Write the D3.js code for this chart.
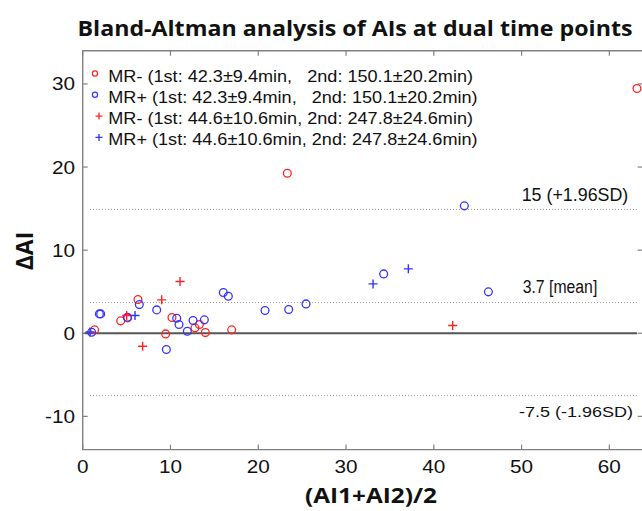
<!DOCTYPE html>
<meta charset="utf-8">
<style>
body { margin: 0; background: #fff; }
svg { display: block; }
text { font-family: "Liberation Sans", Arial, sans-serif; fill: #111; }
.bold { font-family: "Open Sans", "Noto Sans", sans-serif; font-weight: bold; }
</style>
<svg></svg>
<script src="https://cdn.jsdelivr.net/npm/d3@7"></script>
<script>

// MR- (1st scan pair) - red circles
var redCircleX = [1.36, 4.33, 5.12, 6.30, 9.45, 10.17, 12.79, 13.29, 13.97, 16.97, 23.31, 63.15]
var redCircleY = [0.41, 1.49, 1.85, 4.06, -0.08, 1.89, 0.65, 1.05, 0.08, 0.41, 19.26, 29.45]
// MR+ (1st scan pair) - blue circles
var blueCircleX = [1.02, 1.9, 2.05, 5.09, 6.45, 8.43, 9.53, 10.71, 10.97, 11.92, 12.57, 13.86, 16.02, 16.59, 20.77, 23.47, 25.44, 34.29, 43.48, 46.22]
var blueCircleY = [0.12, 2.33, 2.33, 1.93, 3.45, 2.81, -1.96, 1.81, 1.05, 0.24, 1.53, 1.61, 4.90, 4.46, 2.73, 2.85, 3.53, 7.14, 15.33, 4.98]
// MR- (2nd scan pair) - red plus
var redPlusX = [5.01, 6.83, 9.0, 11.09, 42.15]
var redPlusY = [2.13, -1.56, 4.02, 6.22, 0.93]
// MR+ (2nd scan pair) - blue plus
var bluePlusX = [0.83, 5.96, 33.08, 37.1]
var bluePlusY = [0.16, 2.13, 5.94, 7.75]

var meanDiff = 3.7, upperLoA = 14.9, lowerLoA = -7.5
var xTicks = [0, 10, 20, 30, 40, 50, 60]
var yTicks = [-10, 0, 10, 20, 30]
var legendText = [
  "MR- (1st: 42.3\u00b19.4min,   2nd: 150.1\u00b120.2min)",
  "MR+ (1st: 42.3\u00b19.4min,   2nd: 150.1\u00b120.2min)",
  "MR- (1st: 44.6\u00b110.6min, 2nd: 247.8\u00b124.6min)",
  "MR+ (1st: 44.6\u00b110.6min, 2nd: 247.8\u00b124.6min)"
]
var legendShape = ["circle", "circle", "plus", "plus"]
var red = "#f22", blue = "#33f"
var legendColor = [red, blue, red, blue]

var width = 642, height = 511
var svg = d3.select("svg").attr("width", width).attr("height", height)

var x = d3.scaleLinear().domain([0, 63.8]).range([82.7, 642.7])
var y = d3.scaleLinear().domain([-14, 34]).range([449.6, 50.7])

// stretch text horizontally like the source picture
function stretch(sel, k) {
  sel.each(function(){
    var w = this.getComputedTextLength()
    d3.select(this).attr("textLength", w * k).attr("lengthAdjust", "spacingAndGlyphs")
  })
}

var axisColor = "#808080"

// box
var x0 = x.range()[0], x1 = x.range()[1], y0 = y.range()[0], y1 = y.range()[1]
svg.append("path")
  .attr("d", "M" + x1 + "," + y1 + "H" + x0 + "V" + y0 + "H" + x1)
  .attr("fill", "none").attr("stroke", axisColor).attr("stroke-width", 1.4)

// inward ticks on all four sides
xTicks.forEach(function(t){
  svg.append("line").attr("x1", x(t)).attr("x2", x(t)).attr("y1", y0).attr("y2", y0 - 5)
    .attr("stroke", axisColor).attr("stroke-width", 1.2)
  svg.append("line").attr("x1", x(t)).attr("x2", x(t)).attr("y1", y1).attr("y2", y1 + 5)
    .attr("stroke", axisColor).attr("stroke-width", 1.2)
})
yTicks.forEach(function(t){
  svg.append("line").attr("x1", x0).attr("x2", x0 + 5).attr("y1", y(t)).attr("y2", y(t))
    .attr("stroke", axisColor).attr("stroke-width", 1.2)
  svg.append("line").attr("x1", x1).attr("x2", x1 - 5).attr("y1", y(t)).attr("y2", y(t))
    .attr("stroke", axisColor).attr("stroke-width", 1.2)
})

svg.append("g").selectAll("text").data(xTicks).enter().append("text")
  .attr("x", function(d){ return x(d) }).attr("y", y0 + 23.5)
  .attr("text-anchor", "middle").attr("font-size", 18)
  .text(function(d){ return d })
  .call(stretch, 1.15)

svg.append("g").selectAll("text").data(yTicks).enter().append("text")
  .attr("x", 75).attr("y", function(d){ return y(d) + 6.5 })
  .attr("text-anchor", "end").attr("font-size", 18)
  .text(function(d){ return d })
  .call(stretch, 1.15)

// reference lines
var allX = redCircleX.concat(blueCircleX, redPlusX, bluePlusX)
var xmin = d3.min(allX), xmax = d3.max(allX)

svg.append("line")
  .attr("x1", x(0.2)).attr("x2", x(xmax)).attr("y1", y(0)).attr("y2", y(0))
  .attr("stroke", "#555").attr("stroke-width", 1.8)

;[upperLoA, meanDiff, lowerLoA].forEach(function(v){
  svg.append("line")
    .attr("x1", x(xmin)).attr("x2", x(xmax)).attr("y1", y(v)).attr("y2", y(v))
    .attr("stroke", "#999").attr("stroke-width", 1).attr("stroke-dasharray", "1,2")
})

svg.append("text").attr("x", 521.7).attr("y", y(upperLoA) - 8.5)
  .attr("font-size", 18).text("15 (+1.96SD)")
  .attr("textLength", 106.6).attr("lengthAdjust", "spacingAndGlyphs")
svg.append("text").attr("x", 522.7).attr("y", y(meanDiff) - 10)
  .attr("font-size", 18).text("3.7 [mean]")
  .attr("textLength", 74.6).attr("lengthAdjust", "spacingAndGlyphs")
svg.append("text").attr("x", 519).attr("y", y(lowerLoA) + 21.5)
  .attr("font-size", 15).text("-7.5 (-1.96SD)")
  .attr("textLength", 114).attr("lengthAdjust", "spacingAndGlyphs")

// markers
function circles(xs, ys, color) {
  svg.append("g").selectAll("circle").data(d3.zip(xs, ys)).enter().append("circle")
    .attr("cx", function(d){ return x(d[0]) })
    .attr("cy", function(d){ return y(d[1]) })
    .attr("r", 3.9)
    .attr("fill", "none").attr("stroke", color).attr("stroke-width", 1.3)
}
function pluses(xs, ys, color) {
  svg.append("g").selectAll("path").data(d3.zip(xs, ys)).enter().append("path")
    .attr("d", function(d){
      var px = x(d[0]), py = y(d[1]), s = 4.5
      return "M" + (px - s) + "," + py + "H" + (px + s) + "M" + px + "," + (py - s) + "V" + (py + s)
    })
    .attr("fill", "none").attr("stroke", color).attr("stroke-width", 1.4)
}
circles(redCircleX, redCircleY, red)
circles(blueCircleX, blueCircleY, blue)
pluses(redPlusX, redPlusY, red)
pluses(bluePlusX, bluePlusY, blue)

// legend
var leg = svg.append("g")
legendText.forEach(function(t, i){
  var cy = 73.5 + i * 21.3
  if (legendShape[i] == "circle") {
    leg.append("circle").attr("cx", 95).attr("cy", cy).attr("r", 2.6)
      .attr("fill", "none").attr("stroke", legendColor[i]).attr("stroke-width", 1.2)
  } else {
    leg.append("path")
      .attr("d", "M95.5," + cy + "H102.5M99," + (cy - 3.5) + "V" + (cy + 3.5))
      .attr("stroke", legendColor[i]).attr("stroke-width", 1.3)
  }
  leg.append("text").attr("x", 108.3).attr("y", cy + 8)
    .attr("font-size", 15.6).style("white-space", "pre")
    .text(t)
    .call(stretch, 1.16)
})

// title and axis labels
svg.append("text").attr("class", "bold")
  .attr("x", 355).attr("y", 36).attr("text-anchor", "middle")
  .attr("font-size", 21.5).text("Bland-Altman analysis of AIs at dual time points")
  .attr("textLength", 555).attr("lengthAdjust", "spacingAndGlyphs")

svg.append("text").attr("class", "bold")
  .attr("x", 371).attr("y", 503).attr("text-anchor", "middle")
  .attr("font-size", 21).text("(AI1+AI2)/2")
  .attr("textLength", 132).attr("lengthAdjust", "spacingAndGlyphs")

svg.append("text").attr("class", "bold")
  .attr("transform", "translate(33,251) rotate(-90)").attr("text-anchor", "middle")
  .attr("font-size", 23).text("\u0394AI")
</script>
